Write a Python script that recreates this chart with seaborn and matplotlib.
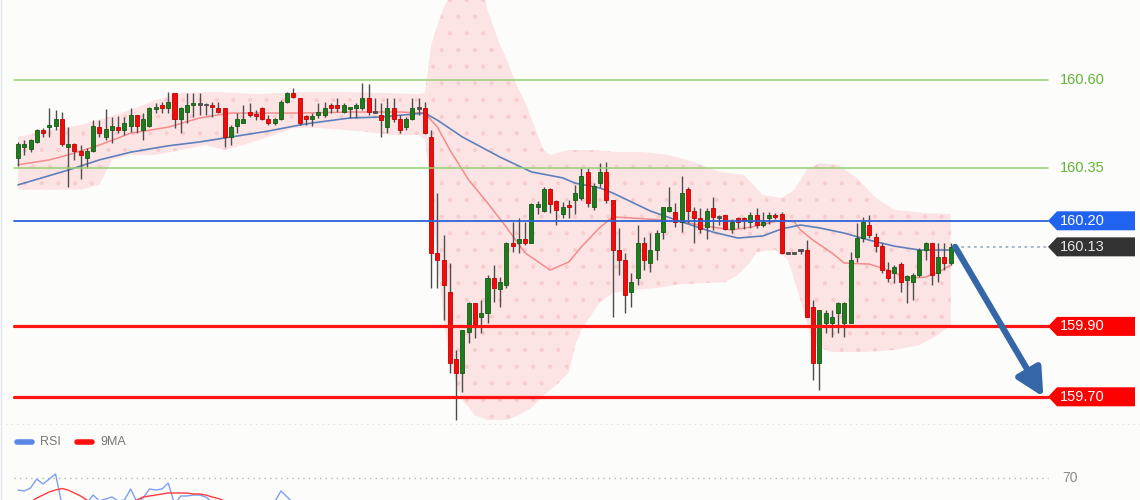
import numpy as np
import matplotlib
matplotlib.use("Agg")
import matplotlib.pyplot as plt
import seaborn as sns
from matplotlib.patches import Polygon
from matplotlib.lines import Line2D
from matplotlib.transforms import blended_transform_factory

sns.set_style("white")
plt.rcParams["font.family"] = ["Liberation Sans", "DejaVu Sans"]
plt.rcParams["hatch.linewidth"] = 0.5

# ---- candles (150 bars) ----
opens = [
    160.378, 160.410, 160.404, 160.424, 160.458, 160.466, 160.469, 160.489, 160.410, 160.418,
    160.398, 160.378, 160.398, 160.466, 160.438, 160.458, 160.466, 160.458, 160.469, 160.501,
    160.458, 160.469, 160.518, 160.529, 160.520, 160.563, 160.489, 160.509, 160.530, 160.532,
    160.532, 160.529, 160.520, 160.520, 160.438, 160.469, 160.478, 160.509, 160.501, 160.520,
    160.489, 160.478, 160.489, 160.538, 160.563, 160.549, 160.498, 160.489, 160.501, 160.501,
    160.529, 160.529, 160.509, 160.518, 160.520, 160.520, 160.549, 160.510, 160.501, 160.466,
    160.520, 160.489, 160.466, 160.489, 160.520, 160.520, 160.438, 160.109, 160.089, 159.998,
    159.807, 159.768, 159.884, 159.966, 159.927, 159.938, 160.037, 160.006, 160.018, 160.137,
    160.137, 160.148, 160.137, 160.239, 160.228, 160.290, 160.256, 160.219, 160.245, 160.259,
    160.265, 160.339, 160.239, 160.307, 160.339, 160.259, 160.117, 160.089, 159.998, 160.037,
    160.137, 160.080, 160.117, 160.168, 160.228, 160.225, 160.197, 160.290, 160.228, 160.208,
    160.182, 160.236, 160.212, 160.216, 160.177, 160.208, 160.208, 160.197, 160.216, 160.188,
    160.208, 160.216, 160.219, 160.109, 160.109, 160.117, 160.117, 159.955, 159.796, 159.910,
    159.910, 159.938, 159.910, 159.910, 160.097, 160.151, 160.188, 160.154, 160.128, 160.060,
    160.052, 160.077, 160.032, 160.026, 160.046, 160.117, 160.137, 160.052, 160.097, 160.080,
]
closes = [
    160.418, 160.418, 160.430, 160.458, 160.449, 160.472, 160.489, 160.418, 160.418, 160.398,
    160.387, 160.398, 160.469, 160.449, 160.461, 160.469, 160.458, 160.478, 160.501, 160.469,
    160.489, 160.520, 160.523, 160.520, 160.538, 160.489, 160.520, 160.529, 160.532, 160.532,
    160.531, 160.523, 160.509, 160.438, 160.466, 160.489, 160.489, 160.501, 160.498, 160.489,
    160.478, 160.489, 160.538, 160.563, 160.552, 160.478, 160.489, 160.498, 160.509, 160.520,
    160.520, 160.520, 160.529, 160.520, 160.529, 160.549, 160.509, 160.509, 160.486, 160.520,
    160.489, 160.458, 160.489, 160.520, 160.521, 160.449, 160.109, 160.089, 160.018, 159.796,
    159.768, 159.890, 159.966, 159.907, 159.938, 160.037, 160.009, 160.026, 160.137, 160.128,
    160.148, 160.137, 160.248, 160.248, 160.290, 160.248, 160.231, 160.239, 160.239, 160.279,
    160.327, 160.251, 160.299, 160.339, 160.259, 160.117, 160.089, 159.989, 160.026, 160.137,
    160.089, 160.117, 160.165, 160.239, 160.239, 160.197, 160.279, 160.228, 160.208, 160.177,
    160.228, 160.211, 160.211, 160.177, 160.197, 160.197, 160.199, 160.216, 160.188, 160.197,
    160.216, 160.211, 160.109, 160.109, 160.109, 160.117, 159.927, 159.796, 159.947, 159.938,
    159.927, 159.966, 159.966, 160.089, 160.151, 160.197, 160.160, 160.128, 160.060, 160.037,
    160.069, 160.026, 160.043, 160.046, 160.117, 160.137, 160.046, 160.097, 160.080, 160.126,
]
highs = [
    160.424, 160.430, 160.432, 160.461, 160.464, 160.520, 160.515, 160.509, 160.466, 160.421,
    160.415, 160.407, 160.486, 160.486, 160.518, 160.495, 160.498, 160.495, 160.520, 160.501,
    160.506, 160.523, 160.535, 160.538, 160.566, 160.563, 160.523, 160.563, 160.563, 160.563,
    160.535, 160.538, 160.538, 160.520, 160.472, 160.506, 160.529, 160.535, 160.515, 160.523,
    160.501, 160.492, 160.543, 160.566, 160.577, 160.549, 160.501, 160.506, 160.535, 160.538,
    160.535, 160.549, 160.535, 160.520, 160.535, 160.591, 160.589, 160.549, 160.535, 160.549,
    160.549, 160.501, 160.495, 160.549, 160.549, 160.538, 160.458, 160.279, 160.160, 160.080,
    159.833, 159.890, 159.969, 159.966, 159.975, 160.046, 160.074, 160.040, 160.140, 160.197,
    160.208, 160.197, 160.251, 160.256, 160.296, 160.293, 160.259, 160.253, 160.259, 160.302,
    160.350, 160.350, 160.307, 160.364, 160.367, 160.259, 160.180, 160.109, 160.052, 160.188,
    160.154, 160.165, 160.174, 160.239, 160.296, 160.251, 160.327, 160.296, 160.239, 160.236,
    160.236, 160.268, 160.216, 160.216, 160.205, 160.211, 160.211, 160.225, 160.236, 160.225,
    160.225, 160.222, 160.225, 160.109, 160.109, 160.117, 160.145, 159.975, 159.947, 159.947,
    159.947, 159.969, 159.969, 160.111, 160.194, 160.211, 160.216, 160.165, 160.137, 160.083,
    160.074, 160.083, 160.046, 160.052, 160.123, 160.140, 160.137, 160.137, 160.137, 160.137,
]
lows = [
    160.356, 160.387, 160.395, 160.421, 160.438, 160.438, 160.458, 160.413, 160.296, 160.373,
    160.319, 160.350, 160.395, 160.438, 160.430, 160.421, 160.449, 160.444, 160.452, 160.449,
    160.430, 160.466, 160.506, 160.506, 160.506, 160.464, 160.449, 160.478, 160.495, 160.501,
    160.501, 160.495, 160.506, 160.410, 160.415, 160.449, 160.478, 160.495, 160.486, 160.486,
    160.472, 160.472, 160.486, 160.535, 160.549, 160.472, 160.472, 160.469, 160.492, 160.495,
    160.506, 160.509, 160.506, 160.492, 160.492, 160.515, 160.501, 160.506, 160.438, 160.449,
    160.481, 160.449, 160.458, 160.486, 160.501, 160.447, 160.009, 160.009, 159.918, 159.768,
    159.634, 159.714, 159.853, 159.867, 159.881, 159.910, 159.969, 159.955, 160.009, 160.111,
    160.109, 160.131, 160.137, 160.219, 160.225, 160.222, 160.188, 160.208, 160.208, 160.219,
    160.259, 160.239, 160.231, 160.296, 160.251, 159.927, 160.046, 159.938, 159.955, 160.018,
    160.060, 160.055, 160.089, 160.148, 160.225, 160.182, 160.168, 160.194, 160.137, 160.165,
    160.148, 160.174, 160.188, 160.174, 160.165, 160.180, 160.177, 160.180, 160.180, 160.182,
    160.191, 160.205, 160.106, 160.109, 160.109, 160.106, 159.927, 159.748, 159.719, 159.881,
    159.870, 159.881, 159.870, 159.910, 160.083, 160.140, 160.151, 160.111, 160.052, 160.026,
    160.023, 159.998, 159.966, 159.975, 160.040, 160.089, 160.018, 160.026, 160.060, 160.074,
]

# ---- Bollinger band at sample bars ----
upper_idx = [0, 5, 10, 14, 18, 22, 26, 32, 38, 42, 46, 52, 58, 64, 65, 66, 67, 68, 69, 70, 74,
             75, 76, 77, 78, 79, 80, 81, 82, 83, 84, 85, 88, 92, 96, 100, 104, 108, 112, 116,
             119, 122, 124, 126, 128, 131, 134, 137, 140, 145, 149]
upper_vals = [160.438, 160.458, 160.472, 160.492, 160.515, 160.543, 160.563, 160.566, 160.560,
              160.563, 160.566, 160.566, 160.563, 160.560, 160.563, 160.699, 160.756, 160.805,
              160.841, 160.884, 160.884, 160.799, 160.748, 160.699, 160.662, 160.614, 160.572,
              160.538, 160.492, 160.444, 160.401, 160.387, 160.401, 160.401, 160.395, 160.395,
              160.387, 160.367, 160.339, 160.330, 160.273, 160.265, 160.288, 160.344, 160.364,
              160.359, 160.322, 160.265, 160.231, 160.222, 160.219]
lower_idx = [0, 5, 10, 13, 15, 18, 22, 26, 30, 33, 36, 40, 44, 48, 52, 56, 60, 64, 65, 66, 67,
             68, 69, 70, 71, 73, 75, 78, 80, 82, 84, 86, 88, 89, 90, 91, 93, 95, 98, 102, 106,
             110, 113, 115, 117, 118, 121, 123, 125, 127, 130, 135, 140, 144, 147, 149]
lower_vals = [160.288, 160.288, 160.288, 160.302, 160.373, 160.387, 160.387, 160.401, 160.415,
              160.401, 160.415, 160.438, 160.464, 160.464, 160.458, 160.452, 160.444, 160.444,
              160.430, 160.288, 160.089, 159.918, 159.805, 159.734, 159.691, 159.648, 159.634,
              159.634, 159.648, 159.668, 159.705, 159.734, 159.768, 159.847, 159.890, 159.918,
              159.969, 159.995, 160.003, 160.009, 160.020, 160.023, 160.026, 160.046, 160.083,
              160.111, 160.117, 160.089, 159.975, 159.847, 159.827, 159.827, 159.833, 159.847,
              159.876, 159.904]

# ---- moving averages ----
ma_fast_idx = [0, 5, 8, 13, 18, 24, 29, 32, 34, 45, 53, 61, 65, 67, 69, 72, 75, 78, 81, 85, 88,
               90, 93, 95, 98, 103, 106, 111, 114, 117, 122, 124, 125, 127, 130, 132, 136, 139,
               142, 145, 147, 149]
ma_fast = [160.359, 160.373, 160.387, 160.415, 160.449, 160.466, 160.492, 160.501, 160.506,
           160.506, 160.509, 160.509, 160.506, 160.466, 160.401, 160.316, 160.251, 160.182,
           160.109, 160.060, 160.083, 160.126, 160.182, 160.211, 160.208, 160.202, 160.197,
           160.182, 160.174, 160.182, 160.202, 160.197, 160.174, 160.145, 160.109, 160.080,
           160.077, 160.060, 160.037, 160.040, 160.054, 160.074]
ma_slow_idx = [0, 8, 13, 18, 24, 29, 34, 40, 45, 47, 53, 58, 65, 67, 71, 77, 82, 87, 89, 93, 95,
               101, 106, 111, 115, 119, 122, 125, 128, 132, 136, 140, 144, 149]
ma_slow = [160.302, 160.344, 160.373, 160.395, 160.413, 160.424, 160.438, 160.455, 160.472,
           160.478, 160.492, 160.495, 160.506, 160.486, 160.438, 160.381, 160.339, 160.322,
           160.307, 160.293, 160.279, 160.228, 160.197, 160.168, 160.151, 160.157, 160.177,
           160.188, 160.180, 160.165, 160.145, 160.128, 160.117, 160.117]

# ---- levels ----
green_levels = [160.60, 160.35]
pivot_level = 160.20
support_levels = [159.90, 159.70]
target_level = 159.70

# ---- RSI panel (only the top of it is visible) ----
rsi = [58, 57, 60, 69, 64, 69, 74, 44, 42, 43, 40, 45, 53, 47, 49, 51, 47, 48, 59, 46, 50, 59,
       58, 59, 65, 44, 52, 52, 53, 53, 51, 46, 42, 41, 42, 40, 41, 42, 41, 43, 44, 46, 57, 51,
       45, 40]
rsi_ma = [44, 45, 46, 50, 53, 56, 58, 59.5, 58, 55, 52, 48, 45, 44, 43, 43, 44, 45, 46, 48, 51,
          52, 53, 54, 55, 55, 55, 55, 54, 54, 53, 51, 49.5, 47]
rsi_level = 70

BG = "#fcfcfa"
W, H = 1140, 500
STEP = 6.26          # pixels per bar
X0 = 18              # pixel of first bar
xlim = (-X0 / STEP, (W - X0) / STEP)


def fx(px):
    return px / W


fig = plt.figure(figsize=(W / 100, H / 100), dpi=100, facecolor=BG)
ax = fig.add_axes([0, 75 / H, 1, 425 / H], facecolor=BG)
ax.set_xlim(*xlim)
ax.set_ylim(160.60 - 345 / 352, 160.60 + 80 / 352)
ax.axis("off")

idx = np.arange(len(opens))
o, c, h, l = map(np.array, (opens, closes, highs, lows))

# band
band_x = upper_idx + lower_idx[::-1]
band_y = upper_vals + lower_vals[::-1]
ax.fill(band_x, band_y, facecolor="#fde4e4", edgecolor="#f7cccc", hatch=".", lw=0, zorder=1)

sns.lineplot(x=ma_fast_idx, y=ma_fast, ax=ax, color="#f48a8a", lw=1.1, zorder=2)
sns.lineplot(x=ma_slow_idx, y=ma_slow, ax=ax, color="#5d80bd", lw=1.2, zorder=2)

# candles
ax.vlines(idx, l, h, color="#4d4d4d", lw=1, zorder=3)
body = np.abs(c - o)
flat = body < 0.002
cols = np.where(c > o, "#1e7b1e", "#f00c0c").astype(object)
cols[flat] = "#4d4d4d"
edges = np.where(c > o, "#155a15", "#c20000").astype(object)
edges[flat] = "#4d4d4d"
ax.bar(idx, np.maximum(body, 0.004), bottom=np.minimum(o, c) - np.where(flat, 0.002, 0),
       width=0.64, color=list(cols), edgecolor=list(edges), lw=0.6, zorder=3)

# horizontal levels
x_l, x_r = fx(14), fx(1048)
for lv in green_levels:
    ax.axhline(lv, x_l, x_r, color="#93d06e", lw=1.1, zorder=4)
ax.axhline(pivot_level, x_l, x_r, color="#2d62d8", lw=1.3, zorder=4)
for lv in support_levels:
    ax.axhline(lv, x_l, x_r, color="#ff1414", lw=2.3, zorder=4)
last_close = closes[-1]
ax.axhline(last_close, fx(955), x_r, color="#9fb0cf", lw=1.3, ls=(0, (1.5, 2)), zorder=4)

# right-hand price tags
tr = blended_transform_factory(fig.transFigure, ax.transData)
half = 9.5 / 352


def tag(level, face, text_col="white"):
    pts = [(fx(1048), level), (fx(1057), level + half), (fx(1135), level + half),
           (fx(1135), level - half), (fx(1057), level - half)]
    ax.add_patch(Polygon(pts, closed=True, transform=tr, facecolor=face, edgecolor="none",
                         zorder=5, clip_on=False))
    ax.text(fx(1060), level, f"{level:.2f}", transform=tr, color=text_col, fontsize=10.5,
            va="center", ha="left", zorder=6)


for lv in green_levels:
    ax.text(fx(1060), lv, f"{lv:.2f}", transform=tr, color="#62b436", fontsize=10.5,
            va="center", ha="left")
tag(pivot_level, "#1f63f0")
tag(last_close, "#333333", "#e6e6e6")
for lv in support_levels:
    tag(lv, "#ff0000")

# forecast arrow
ax.annotate("", xy=(idx[-1] + 14.8, target_level), xytext=(idx[-1] + 0.7, last_close),
            arrowprops=dict(arrowstyle="-|>,head_length=0.75,head_width=0.38",
                            color="#3566a8", lw=4.5, mutation_scale=22, shrinkA=0, shrinkB=0),
            zorder=6)

ax.axhline(ax.get_ylim()[0] + 0.002, color="#e2dada", lw=0.8, ls=(0, (1, 4)))

# RSI panel
ax2 = fig.add_axes([0, 0, 1, 75 / H], facecolor=BG)
ax2.set_xlim(*xlim)
ax2.set_ylim(48, 123)
ax2.axis("off")
tr2 = blended_transform_factory(fig.transFigure, ax2.transData)
ax2.axhline(rsi_level, x_l, x_r, color="#b5b5b5", lw=1, ls=(0, (1, 3)))
ax2.text(fx(1062), rsi_level, str(rsi_level), transform=tr2, color="#8a8a8a", fontsize=10,
         va="center", ha="left")
sns.lineplot(x=np.arange(len(rsi)), y=rsi, ax=ax2, color="#7d9ff0", lw=1)
sns.lineplot(x=np.arange(len(rsi_ma)), y=rsi_ma, ax=ax2, color="#ff3b3b", lw=1)

ax2.add_line(Line2D([fx(17), fx(32)], [106, 106], transform=tr2, color="#5a86e6", lw=4))
ax2.text(fx(40), 106, "RSI", transform=tr2, color="#777777", fontsize=9, va="center")
ax2.add_line(Line2D([fx(77), fx(92)], [106, 106], transform=tr2, color="#ff1010", lw=4))
ax2.text(fx(100), 106, "9MA", transform=tr2, color="#777777", fontsize=9, va="center")

fig.add_artist(Line2D([fx(1), fx(1)], [0, 1], color="#e3e8ee", lw=1))

fig.savefig("out.png", dpi=100, facecolor=BG)
